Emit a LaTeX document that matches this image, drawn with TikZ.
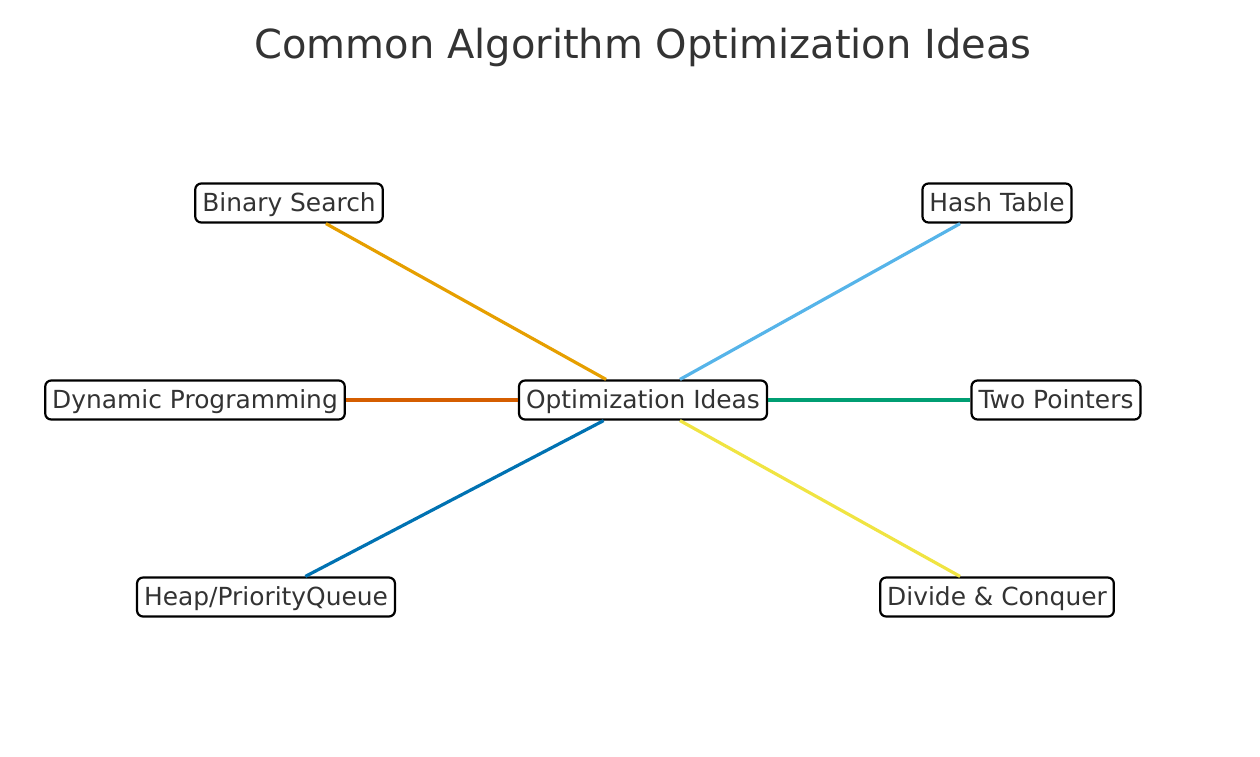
\documentclass[tikz,border=0pt]{standalone}
\usepackage{fontspec}
\setmainfont{DejaVu Sans}
\usepackage{xcolor}
\usepackage{tikz}
\usetikzlibrary{positioning,calc}
\definecolor{txtgray}{RGB}{51,51,51}
\definecolor{oiorange}{HTML}{E69F00}
\definecolor{oisky}{HTML}{56B4E9}
\definecolor{oiverm}{HTML}{D55E00}
\definecolor{oigreen}{HTML}{009E73}
\definecolor{oiblue}{HTML}{0072B2}
\definecolor{oiyellow}{HTML}{F0E442}
\tikzset{
  idea/.style={draw=black, fill=white, line width=2.2pt, rounded corners=6pt,
               minimum height=39pt, inner xsep=7pt, inner ysep=0pt,
               text height=20.5pt, text depth=3.5pt,
               text=txtgray, font=\fontsize{24.9}{30}\selectfont},
  link/.style={line width=3.2pt},
  ttl/.style={text=txtgray, font=\fontsize{40}{48}\selectfont}
}

\begin{document}
\begin{tikzpicture}[x=1pt,y=-1pt]
        \useasboundingbox (0,0) rectangle (1260,756);
        \node[ttl] (title) at (643,47) {Common Algorithm Optimization Ideas};
        \node[idea] (hub) at (643,400) {Optimization Ideas};
        \node[idea] (bs) at (289,203) {Binary Search};
        \node[idea] (ht) at (997,203) {Hash Table};
        \node[idea] (dp) at (195,400) {Dynamic Programming};
        \node[idea] (tp) at (1056,400) {Two Pointers};
        \node[idea] (hp) at (266,597) {Heap/PriorityQueue};
        \node[idea] (dc) at (997,597) {Divide \& Conquer};
        \draw[link, oiorange] (hub) -- (bs);
        \draw[link, oisky] (hub) -- (ht);
        \draw[link, oiverm] (hub) -- (dp);
        \draw[link, oigreen] (hub) -- (tp);
        \draw[link, oiblue] (hub) -- (hp);
        \draw[link, oiyellow] (hub) -- (dc);
      \end{tikzpicture}
\end{document}
